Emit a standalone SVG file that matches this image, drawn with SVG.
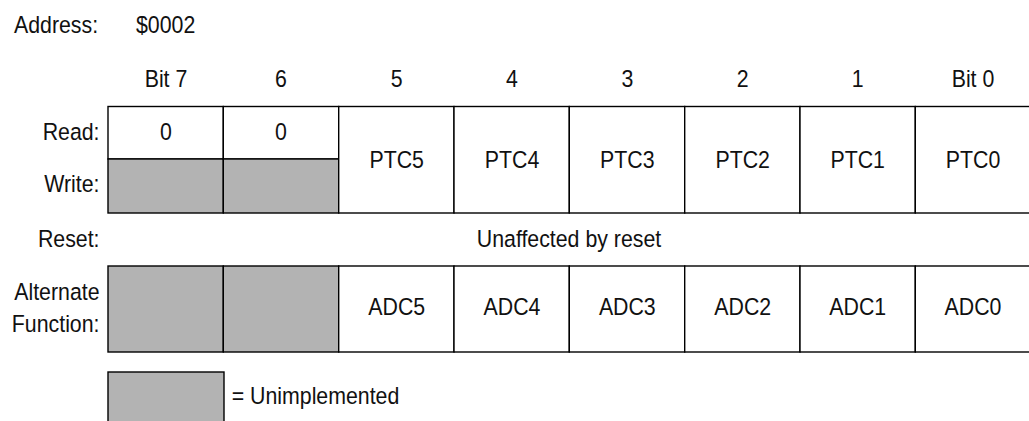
<svg xmlns="http://www.w3.org/2000/svg" width="1029" height="421" viewBox="0 0 1029 421">
<style>
text{font-family:"Liberation Sans",Arial,Helvetica,sans-serif;font-size:24.5px;fill:#111}
.m{text-anchor:middle}
.r{text-anchor:end}
.c{fill:#fff;stroke:#000;stroke-width:1.4}
.u{fill:#b3b3b3;stroke:#000;stroke-width:1.4}
</style>
<rect width="1029" height="421" fill="#fff"/>
<g id="address">
<text transform="translate(14,32.7) scale(0.87,1)">Address:</text>
<text transform="translate(136,32.7) scale(0.87,1)">$0002</text>
</g>
<g id="bit-headers">
<text class="m" transform="translate(166,87) scale(0.87,1)">Bit 7</text>
<text class="m" transform="translate(281,87) scale(0.87,1)">6</text>
<text class="m" transform="translate(396.7,87) scale(0.87,1)">5</text>
<text class="m" transform="translate(512,87) scale(0.87,1)">4</text>
<text class="m" transform="translate(627.3,87) scale(0.87,1)">3</text>
<text class="m" transform="translate(742.7,87) scale(0.87,1)">2</text>
<text class="m" transform="translate(857.7,87) scale(0.87,1)">1</text>
<text class="m" transform="translate(973,87) scale(0.87,1)">Bit 0</text>
</g>
<g id="row-labels">
<text class="r" transform="translate(99.5,140) scale(0.87,1)">Read:</text>
<text class="r" transform="translate(99.5,191.7) scale(0.87,1)">Write:</text>
<text class="r" transform="translate(99.5,246.7) scale(0.87,1)">Reset:</text>
<text class="r" transform="translate(99.5,300) scale(0.87,1)">Alternate</text>
<text class="r" transform="translate(99.5,331.7) scale(0.87,1)">Function:</text>
</g>
<g id="bit7-rw">
<rect class="c" x="108" y="106.5" width="115.3" height="52.5"/>
<rect class="u" x="108" y="159" width="115.3" height="54"/>
<text class="m" transform="translate(166,140) scale(0.87,1)">0</text>
</g>
<g id="bit6-rw">
<rect class="c" x="223.3" y="106.5" width="115.4" height="52.5"/>
<rect class="u" x="223.3" y="159" width="115.4" height="54"/>
<text class="m" transform="translate(281,140) scale(0.87,1)">0</text>
</g>
<g id="ptc5"><rect class="c" x="338.7" y="106.5" width="115.3" height="106.5"/><text class="m" transform="translate(396.7,167.7) scale(0.87,1)">PTC5</text></g>
<g id="ptc4"><rect class="c" x="454" y="106.5" width="115.3" height="106.5"/><text class="m" transform="translate(512,167.7) scale(0.87,1)">PTC4</text></g>
<g id="ptc3"><rect class="c" x="569.3" y="106.5" width="115.4" height="106.5"/><text class="m" transform="translate(627.3,167.7) scale(0.87,1)">PTC3</text></g>
<g id="ptc2"><rect class="c" x="684.7" y="106.5" width="115.3" height="106.5"/><text class="m" transform="translate(742.7,167.7) scale(0.87,1)">PTC2</text></g>
<g id="ptc1"><rect class="c" x="800" y="106.5" width="115.3" height="106.5"/><text class="m" transform="translate(857.7,167.7) scale(0.87,1)">PTC1</text></g>
<g id="ptc0"><rect class="c" x="915.3" y="106.5" width="115.4" height="106.5"/><text class="m" transform="translate(973,167.7) scale(0.87,1)">PTC0</text></g>
<g id="reset">
<text class="m" transform="translate(569,246.7) scale(0.87,1)">Unaffected by reset</text>
</g>
<g id="alt7"><rect class="u" x="108" y="266" width="115.3" height="86"/></g>
<g id="alt6"><rect class="u" x="223.3" y="266" width="115.4" height="86"/></g>
<g id="adc5"><rect class="c" x="338.7" y="266" width="115.3" height="86"/><text class="m" transform="translate(396.7,315) scale(0.87,1)">ADC5</text></g>
<g id="adc4"><rect class="c" x="454" y="266" width="115.3" height="86"/><text class="m" transform="translate(512,315) scale(0.87,1)">ADC4</text></g>
<g id="adc3"><rect class="c" x="569.3" y="266" width="115.4" height="86"/><text class="m" transform="translate(627.3,315) scale(0.87,1)">ADC3</text></g>
<g id="adc2"><rect class="c" x="684.7" y="266" width="115.3" height="86"/><text class="m" transform="translate(742.7,315) scale(0.87,1)">ADC2</text></g>
<g id="adc1"><rect class="c" x="800" y="266" width="115.3" height="86"/><text class="m" transform="translate(857.7,315) scale(0.87,1)">ADC1</text></g>
<g id="adc0"><rect class="c" x="915.3" y="266" width="115.4" height="86"/><text class="m" transform="translate(973,315) scale(0.87,1)">ADC0</text></g>
<g id="legend">
<rect class="u" x="108" y="372" width="116" height="70"/>
<text transform="translate(231.7,404.3) scale(0.87,1)">= Unimplemented</text>
</g>
<g id="connectors"/>
</svg>
